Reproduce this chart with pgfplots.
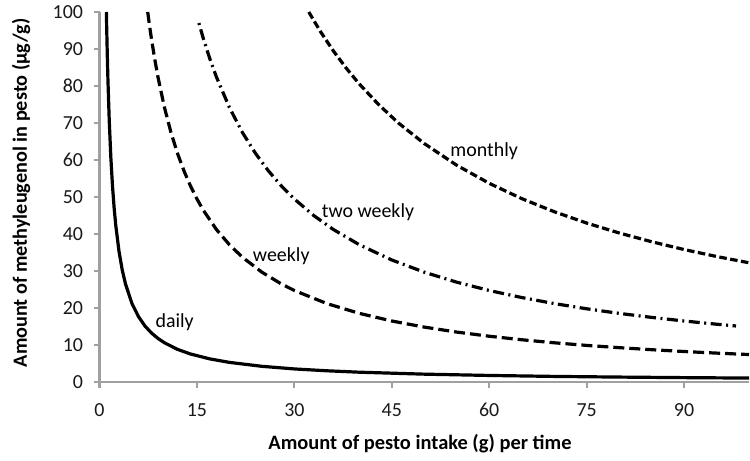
\documentclass[border=0pt]{standalone}
\usepackage{fontspec}
\setmainfont{Carlito}
\usepackage{pgfplots}
\pgfplotsset{compat=1.18}
\definecolor{axgray}{HTML}{A0A0A0}
\begin{document}
\begin{tikzpicture}
\useasboundingbox (0,0) rectangle (750bp,461bp);
\begin{axis}[
  at={(99.5bp,79bp)}, anchor=south west,
  scale only axis, width=649.5bp, height=370bp,
  xmin=0, xmax=100, ymin=0, ymax=100,
  axis x line=bottom, axis y line=left,
  axis line style={-, draw=axgray, line width=2.6bp},
  every outer x axis line/.append style={-},
  every outer y axis line/.append style={-},
  xtick={0,15,30,45,60,75,90}, ytick={0,10,...,100},
  tick align=outside, major tick length=6bp,
  tick style={draw=axgray, line width=2.2bp},
  ticklabel style={font=\fontsize{20}{24}\selectfont, text=black!90},
  xticklabel style={yshift=-12bp},
  yticklabel style={xshift=-7bp},
  /pgf/number format/assume math mode=true,
  clip=true,
  every axis plot/.append style={line width=3.2bp, black},
]
% daily
\addplot[solid] coordinates {
(1.06,100) (1.1,96.36) (1.2,88.33) (1.3,81.54) (1.5,70.67) (1.75,60.57) (2,53) (2.25,47.11) (2.5,42.4) (3,35.33) (3.5,30.29) (4,26.5) (5,21.2) (6,17.67) (7,15.14) (8,13.25) (9,11.78) (10,10.6) (12,8.83) (14,7.57) (17,6.24) (20,5.3) (25,4.24) (30,3.53) (35,3.03) (40,2.65) (50,2.12) (60,1.77) (70,1.51) (80,1.33) (90,1.18) (100,1.06)
};
% weekly
\addplot[dash pattern=on 11bp off 5bp] coordinates {
(7.42,100) (7.75,95.74) (8,92.75) (8.5,87.29) (9,82.44) (10,74.2) (11,67.45) (12,61.83) (13,57.08) (14,53) (15,49.47) (16,46.38) (18,41.22) (20,37.1) (22,33.73) (25,29.68) (28,26.5) (30,24.73) (35,21.2) (40,18.55) (45,16.49) (50,14.84) (55,13.49) (60,12.37) (65,11.42) (70,10.6) (75,9.89) (80,9.28) (85,8.73) (90,8.24) (95,7.81) (100,7.42)
};
% two weekly
\addplot[dash pattern=on 2bp off 4.5bp on 11bp off 4.5bp] coordinates {
(15.3,97.0) (16,92.75) (17,87.29) (18,82.44) (20,74.2) (22,67.45) (24,61.83) (26,57.08) (28,53) (30,49.47) (33,44.97) (36,41.22) (40,37.1) (45,32.98) (50,29.68) (55,26.98) (60,24.73) (65,22.83) (70,21.2) (75,19.79) (80,18.55) (85,17.46) (90,16.49) (95,15.62) (98,15.14)
};
% monthly
\addplot[dash pattern=on 7.5bp off 3.5bp] coordinates {
(32.22,100) (34,94.76) (36,89.5) (38,84.79) (40,80.55) (43,74.93) (46,70.04) (50,64.44) (55,58.58) (60,53.7) (65,49.57) (70,46.03) (75,42.96) (80,40.28) (85,37.91) (90,35.8) (95,33.92) (100,32.22)
};
\node[anchor=west, inner sep=0pt, font=\fontsize{20}{24}\selectfont] at (axis cs:8.6,16.3) {daily};
\node[anchor=west, inner sep=0pt, font=\fontsize{20}{24}\selectfont] at (axis cs:23.6,34) {weekly};
\node[anchor=west, inner sep=0pt, font=\fontsize{20}{24}\selectfont] at (axis cs:34.2,46) {two weekly};
\node[anchor=west, inner sep=0pt, font=\fontsize{20}{24}\selectfont] at (axis cs:54,62.3) {monthly};
\end{axis}
\node[font=\bfseries\fontsize{20.5}{24}\selectfont, anchor=center] at (420bp,17bp) {Amount of pesto intake (g) per time};
\node[font=\bfseries\fontsize{20.3}{24}\selectfont, anchor=center, rotate=90] at (21bp,268bp) {Amount of methyleugenol in pesto (µg/g)};
\end{tikzpicture}
\end{document}
